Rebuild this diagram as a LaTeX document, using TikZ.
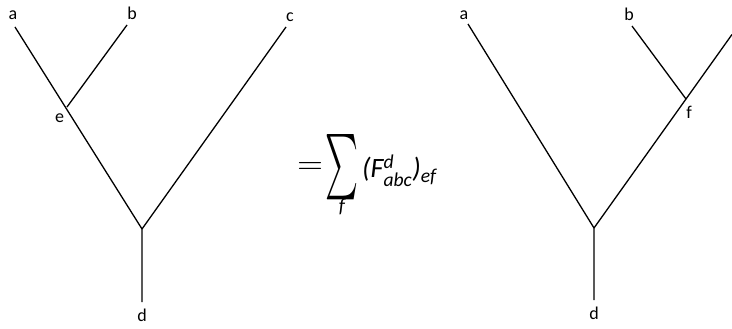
\documentclass[tikz,border=0pt]{standalone}
\usepackage{fontspec}
\setmainfont{Carlito}
\usepackage{amsmath}

\begin{document}
\begin{tikzpicture}[x=1pt, y=-1pt,
  leg/.style={line width=1.3pt},
  lbl/.style={inner sep=0pt, font=\fontsize{18}{20}\selectfont}]
\useasboundingbox (0,0) rectangle (732,329);

% arbol izquierdo: a y b se juntan en e
\begin{scope}
\coordinate (la) at (15,27);
\coordinate (lb) at (127,25);
\coordinate (lc) at (286,27);
\coordinate (le) at (67,107);
\coordinate (lroot) at (142,229);
\coordinate (ld) at (142,302);
\draw[leg] (la) -- (lroot);
\draw[leg] (lb) -- (le);
\draw[leg] (lc) -- (lroot) -- (ld);
\node[lbl] (la-lbl) at (13,15) {a};
\node[lbl] (lb-lbl) at (132,13.5) {b};
\node[lbl] (lc-lbl) at (290,17.5) {c};
\node[lbl] (le-lbl) at (59.5,118) {e};
\node[lbl] (ld-lbl) at (142,315) {d};
\end{scope}

% suma sobre f
\node[inner sep=0pt] (eq) at (310,168) {\resizebox{26pt}{11pt}{$=$}};
\node[inner sep=0pt] (sumsign) at (341.5,167.5) {\resizebox{33pt}{49pt}{$\sum$}};
\node[inner sep=0pt, font=\fontsize{20}{22}\selectfont\itshape] (sumidx) at (342,207) {f};
\node[anchor=base west, inner sep=0pt, font=\fontsize{28}{30}\selectfont\itshape] (fexpr) at (362,178)
  {(F$^{\textit{d}}_{\textit{abc}}$)$_{\textit{ef}}$};

% arbol derecho: b y c se juntan en f (c se sale del borde)
\begin{scope}
\coordinate (ra) at (468,24);
\coordinate (rb) at (632,26);
\coordinate (rc) at (732,34.5);
\coordinate (rf) at (686,99);
\coordinate (rroot) at (594,228);
\coordinate (rd) at (594,300);
\draw[leg] (ra) -- (rroot);
\draw[leg] (rb) -- (rf);
\draw[leg] (rc) -- (rroot) -- (rd);
\node[lbl] (ra-lbl) at (464,15) {a};
\node[lbl] (rb-lbl) at (629,14.5) {b};
\node[lbl] (rf-lbl) at (689,112) {f};
\node[lbl] (rd-lbl) at (594,313) {d};
\end{scope}
\end{tikzpicture}
\end{document}
